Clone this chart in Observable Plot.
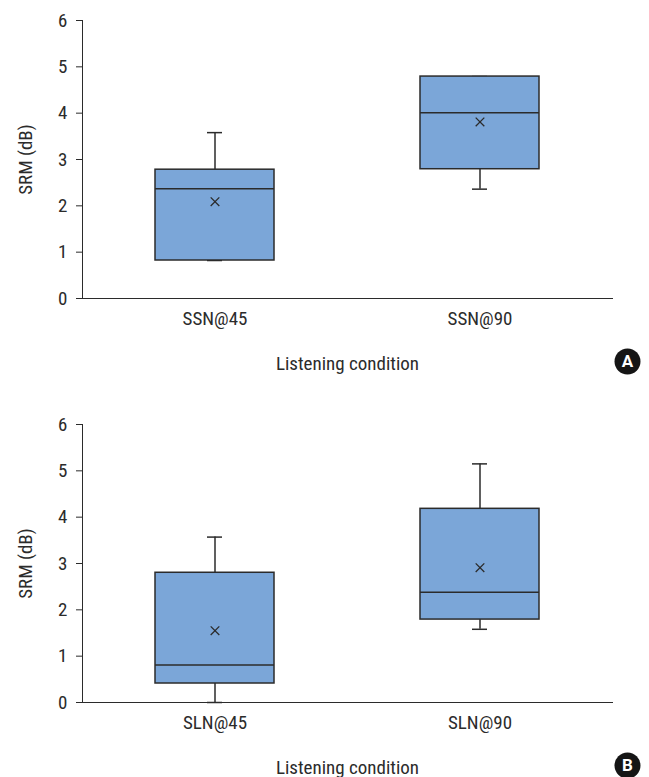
<!DOCTYPE html>
<html>
<head>
<meta charset="utf-8">
<script src="https://cdn.jsdelivr.net/npm/d3@7"></script>
<script src="https://cdn.jsdelivr.net/npm/@observablehq/plot@0.6"></script>
<style>
  body { margin: 0; background: #fff; }
  #chart { width: 649px; }
  #chart svg { display: block; }
</style>
</head>
<body>
<div id="chart"></div>
<script>
// Panel A
const categoriesA = ["SSN@45", "SSN@90"];
const q1A = [0.82, 2.79];
const medianA = [2.37, 4.01];
const q3A = [2.78, 4.79];
const meanA = [2.09, 3.81];
const lowA = [0.82, 2.36];
const highA = [3.58, 4.79];

// Panel B
const categoriesB = ["SLN@45", "SLN@90"];
const q1B = [0.41, 1.79];
const medianB = [0.81, 2.38];
const q3B = [2.80, 4.18];
const meanB = [1.55, 2.91];
const lowB = [0.00, 1.58];
const highB = [3.57, 5.15];

const yTicks = [0, 1, 2, 3, 4, 5, 6];
const yLabel = "SRM (dB)";
const xLabel = "Listening condition";

const FONT = "'Roboto Condensed', 'Liberation Sans Narrow', 'DejaVu Sans Condensed', Roboto, sans-serif";
const INK = "#2b2b2b";
const BOX = "#7ba6d8";

function panel(cats, q1, med, q3, mean, lo, hi, badge) {
  const rows = cats.map((c, i) => ({cat: c, q1: q1[i], med: med[i], q3: q3[i], mean: mean[i], lo: lo[i], hi: hi[i]}));
  return Plot.plot({
    width: 649,
    height: 404,
    marginLeft: 82,
    marginRight: 37,
    marginTop: 20,
    marginBottom: 106,
    style: {fontFamily: FONT, fontSize: "19px", color: INK, background: "#fff"},
    x: {
      domain: cats,
      paddingInner: 0.55,
      paddingOuter: 0.275,
      label: null,
      tickSize: 0,
      tickPadding: 13,
      line: true
    },
    y: {
      domain: [0, 6],
      ticks: yTicks,
      tickFormat: d3.format("d"),
      label: null,
      tickSize: 6,
      tickPadding: 9,
      line: true
    },
    marks: [
      Plot.ruleX(rows, {x: "cat", y1: "q3", y2: "hi", stroke: INK, strokeWidth: 1.5}),
      Plot.ruleX(rows, {x: "cat", y1: "lo", y2: "q1", stroke: INK, strokeWidth: 1.5}),
      Plot.tickY(rows, {x: "cat", y: "hi", inset: 52, stroke: INK, strokeWidth: 1.5}),
      Plot.tickY(rows, {x: "cat", y: "lo", inset: 52, stroke: INK, strokeWidth: 1.5}),
      Plot.barY(rows, {x: "cat", y1: "q1", y2: "q3", fill: BOX, stroke: INK, strokeWidth: 1.5}),
      Plot.tickY(rows, {x: "cat", y: "med", stroke: INK, strokeWidth: 1.5}),
      Plot.dot(rows, {x: "cat", y: "mean", symbol: "times", r: 4, stroke: INK, strokeWidth: 1.3}),
      Plot.text([xLabel], {frameAnchor: "bottom", dy: 65, text: d => d, textAnchor: "middle", lineAnchor: "middle", fill: INK, fontSize: 19}),
      Plot.text([yLabel], {frameAnchor: "left", dx: -57, rotate: -90, text: d => d, textAnchor: "middle", lineAnchor: "middle", fill: INK, fontSize: 19}),
      Plot.dot([badge], {frameAnchor: "bottom-right", dx: 15, dy: 63, r: 13, fill: "#151515", stroke: null}),
      Plot.text([badge], {frameAnchor: "bottom-right", dx: 15, dy: 63, text: d => d, textAnchor: "middle", lineAnchor: "middle", fill: "#fff", fontWeight: "bold", fontSize: 17, fontFamily: "Roboto, sans-serif"})
    ]
  });
}

const chart = document.getElementById("chart");
chart.append(panel(categoriesA, q1A, medianA, q3A, meanA, lowA, highA, "A"));
chart.append(panel(categoriesB, q1B, medianB, q3B, meanB, lowB, highB, "B"));
</script>
</body>
</html>
